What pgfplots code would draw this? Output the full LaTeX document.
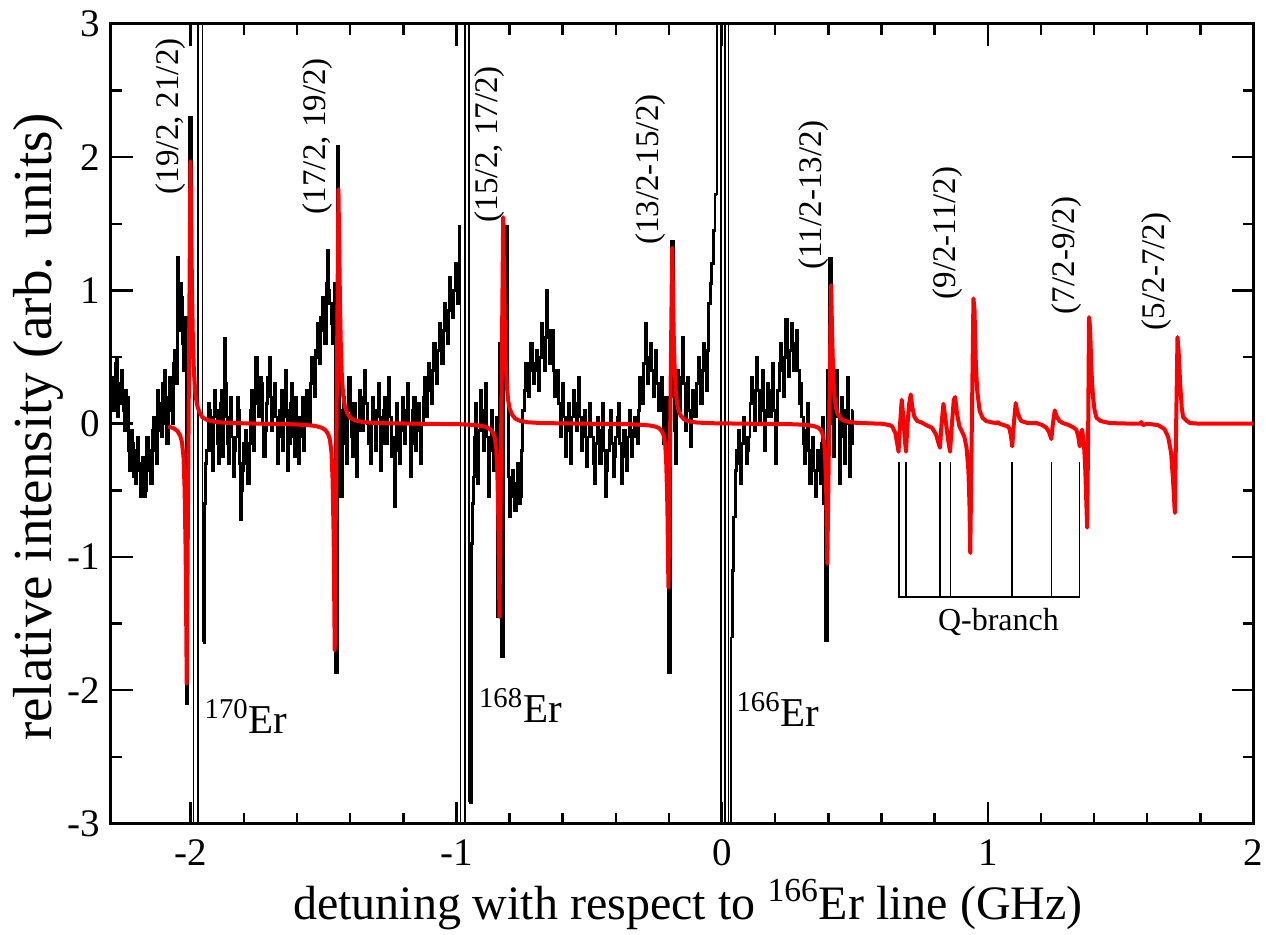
\documentclass[border=0pt]{standalone}
\usepackage{fontspec}
\setmainfont{Liberation Serif}
\usepackage{pgfplots}
\pgfplotsset{compat=1.18}
\newcommand{\annfont}{\fontsize{16.5}{16.5}\selectfont}
\newcommand{\isofont}{\fontsize{20.5}{20.5}\selectfont}
\begin{document}
\begin{tikzpicture}
\useasboundingbox (-55.5pt,-55.75pt) rectangle (577.5pt,411.75pt);
\begin{axis}[
  at={(0pt,0pt)}, anchor=south west,
  scale only axis, width=571.25pt, height=399.75pt,
  xmin=-2.3, xmax=2, ymin=-3, ymax=3,
  xtick={-2,-1,0,1,2}, xticklabels={-2,-1,0,1,2},
  ytick={-3,-2,-1,0,1,2,3}, yticklabels={-3,-2,-1,0,1,2,3},
  minor x tick num=4, minor y tick num=1,
  tick align=inside,
  major tick length=10.8pt, minor tick length=5.3pt,
  every tick/.style={black, line width=1.25pt},
  axis line style={line width=1.5pt},
  ticklabel style={font=\fontsize{19.5}{19.5}\selectfont, inner sep=0pt},
  xticklabel style={anchor=north, yshift=-8pt},
  yticklabel style={anchor=east, xshift=-5.5pt},
  xlabel={detuning with respect to \textsuperscript{166}Er line (GHz)},
  ylabel={relative intensity (arb. units)},
  every axis x label/.style={at={(axis description cs:0.505,-0.12)}, anchor=base, font=\fontsize{24}{24}\selectfont},
  every axis y label/.style={at={(axis description cs:-0.064,0.496)}, rotate=90, anchor=center, font=\fontsize{27.5}{27.5}\selectfont},
  clip=true,
]
% measured trace (black), noise segments
\addplot[black, line width=1.4pt, const plot, mark=none] coordinates {
(-2.300,0.35) (-2.295,0.20) (-2.290,0.10) (-2.285,0.45) (-2.280,0.50) (-2.275,0.05) (-2.270,0.15) (-2.265,0.30)
(-2.260,0.40) (-2.255,0.10) (-2.250,-0.05) (-2.245,0.25) (-2.240,0.20) (-2.235,-0.20) (-2.230,-0.35) (-2.225,-0.05)
(-2.220,-0.15) (-2.215,-0.40) (-2.210,-0.45) (-2.205,-0.20) (-2.200,-0.10) (-2.195,-0.35) (-2.190,-0.55) (-2.185,-0.30)
(-2.180,-0.25) (-2.175,-0.55) (-2.170,-0.50) (-2.165,-0.10) (-2.160,-0.20) (-2.155,-0.35) (-2.150,-0.45) (-2.145,-0.05)
(-2.140,0.05) (-2.135,-0.20) (-2.130,-0.30) (-2.125,0.25) (-2.120,0.15) (-2.115,-0.05) (-2.110,-0.10) (-2.105,0.30)
(-2.100,0.40) (-2.095,0.00) (-2.090,-0.15) (-2.085,0.20) (-2.080,0.35) (-2.075,0.10) (-2.070,0.00) (-2.065,0.45)
(-2.060,0.55) (-2.055,0.30) (-2.050,1.25) (-2.047,0.85) (-2.043,0.70) (-2.039,1.05) (-2.036,0.95) (-2.032,0.60)
(-2.028,0.40) (-2.024,0.75) (-2.020,0.80) (-2.016,-2.10) (-2.010,0.60) (-2.005,2.30) (-1.998,0.80) (-1.990,0.80)
};
\addplot[black, line width=0.7pt, mark=none] coordinates {
(-1.990,0.80) (-1.990,-9) (-1.973,-9) (-1.973,9) (-1.955,9) (-1.955,-1.64)
};
\addplot[black, line width=1.4pt, const plot, mark=none] coordinates {
(-1.955,-1.64) (-1.948,-0.60) (-1.944,-0.30) (-1.940,-0.20) (-1.935,0.15) (-1.930,0.10) (-1.925,-0.20) (-1.920,-0.35)
(-1.915,0.05) (-1.910,0.25) (-1.905,0.10) (-1.900,-0.15) (-1.895,-0.30) (-1.890,0.15) (-1.885,0.25) (-1.880,-0.25)
(-1.877,0.10) (-1.874,0.64) (-1.870,0.30) (-1.866,0.05) (-1.862,-0.15) (-1.858,-0.30) (-1.854,0.05) (-1.850,0.20)
(-1.845,-0.10) (-1.840,-0.40) (-1.835,-0.20) (-1.830,-0.10) (-1.825,0.20) (-1.820,0.10) (-1.816,-0.30) (-1.812,-0.72)
(-1.808,-0.50) (-1.805,-0.35) (-1.800,-0.15) (-1.795,-0.05) (-1.790,-0.30) (-1.785,-0.45) (-1.780,-0.15) (-1.775,0.10)
(-1.770,0.25) (-1.765,-0.20) (-1.760,0.15) (-1.755,0.50) (-1.750,0.20) (-1.745,0.05) (-1.740,0.35) (-1.735,0.30)
(-1.730,0.00) (-1.725,-0.25) (-1.720,-0.05) (-1.715,0.15) (-1.710,0.35) (-1.705,0.50) (-1.700,0.20) (-1.695,-0.05)
(-1.690,0.10) (-1.685,0.30) (-1.680,0.05) (-1.675,-0.30) (-1.670,-0.10) (-1.665,0.10) (-1.660,0.25) (-1.655,-0.20)
(-1.650,0.05) (-1.645,0.40) (-1.640,0.10) (-1.635,-0.35) (-1.630,-0.15) (-1.625,0.15) (-1.620,0.30) (-1.615,-0.10)
(-1.610,-0.25) (-1.605,0.20) (-1.600,0.05) (-1.595,-0.30) (-1.590,-0.10) (-1.585,0.05) (-1.580,0.20) (-1.575,-0.20)
(-1.570,0.00) (-1.565,0.25) (-1.560,0.10) (-1.555,0.00) (-1.550,0.30) (-1.545,0.50) (-1.540,0.35) (-1.535,0.20)
(-1.530,0.55) (-1.525,0.75) (-1.520,0.50) (-1.515,0.45) (-1.510,0.80) (-1.505,0.95) (-1.500,0.70) (-1.495,0.60)
(-1.490,1.05) (-1.485,1.30) (-1.481,1.00) (-1.477,0.90) (-1.472,0.75) (-1.468,0.60) (-1.464,0.90) (-1.461,1.05)
(-1.456,-1.87) (-1.449,2.08) (-1.442,0.40) (-1.438,0.10) (-1.435,-0.55) (-1.430,-0.15) (-1.425,0.20) (-1.420,0.05)
(-1.415,-0.30) (-1.410,0.10) (-1.405,0.35) (-1.400,0.15) (-1.395,-0.10) (-1.390,-0.25) (-1.385,0.15) (-1.380,0.00)
(-1.375,-0.40) (-1.370,-0.05) (-1.365,0.25) (-1.360,0.10) (-1.355,-0.05) (-1.350,0.20) (-1.345,0.40) (-1.340,0.15)
(-1.335,0.00) (-1.330,-0.15) (-1.325,-0.30) (-1.320,0.00) (-1.315,0.20) (-1.310,0.05) (-1.305,-0.20) (-1.300,0.10)
(-1.295,0.30) (-1.290,0.05) (-1.285,-0.35) (-1.280,-0.15) (-1.275,0.10) (-1.270,0.20) (-1.265,-0.15) (-1.260,0.10)
(-1.255,0.35) (-1.250,0.05) (-1.245,-0.25) (-1.240,-0.10) (-1.235,-0.62) (-1.230,-0.20) (-1.225,0.15) (-1.220,0.00)
(-1.215,-0.30) (-1.210,-0.05) (-1.205,0.20) (-1.200,0.05) (-1.195,-0.15) (-1.190,0.10) (-1.185,0.30) (-1.180,0.00)
(-1.175,-0.40) (-1.170,-0.15) (-1.165,0.10) (-1.160,0.20) (-1.155,-0.20) (-1.150,0.00) (-1.145,0.15) (-1.140,-0.05)
(-1.135,-0.30) (-1.130,0.00) (-1.125,0.20) (-1.120,0.35) (-1.115,0.05) (-1.110,0.25) (-1.105,0.45) (-1.100,0.30)
(-1.095,0.15) (-1.090,0.40) (-1.085,0.60) (-1.080,0.45) (-1.075,0.30) (-1.070,0.55) (-1.065,0.75) (-1.060,0.60)
(-1.055,0.45) (-1.050,0.70) (-1.045,0.90) (-1.040,0.75) (-1.035,0.60) (-1.030,0.85) (-1.025,1.10) (-1.020,0.95)
(-1.015,0.80) (-1.010,1.00) (-1.005,1.20) (-1.000,1.05) (-0.996,0.90) (-0.990,1.48) (-0.984,1.48)
};
\addplot[black, line width=0.7pt, mark=none] coordinates {
(-0.984,1.48) (-0.984,-9) (-0.967,-9) (-0.967,9) (-0.952,9) (-0.952,-2.84)
};
\addplot[black, line width=1.4pt, const plot, mark=none] coordinates {
(-0.952,-2.84) (-0.944,-0.90) (-0.940,-0.60) (-0.937,-0.40) (-0.933,-0.10) (-0.930,0.15) (-0.925,-0.10) (-0.920,-0.45)
(-0.915,-0.05) (-0.910,0.25) (-0.905,0.05) (-0.900,-0.20) (-0.895,0.10) (-0.890,0.30) (-0.885,-0.10) (-0.880,-0.55)
(-0.875,-0.20) (-0.870,0.10) (-0.865,-0.10) (-0.860,-0.35) (-0.855,-0.10) (-0.851,0.05) (-0.844,-1.45) (-0.838,0.60)
(-0.832,-1.75) (-0.824,0.80) (-0.815,1.48) (-0.808,0.20) (-0.804,-0.40) (-0.800,-0.70) (-0.795,-0.50) (-0.790,-0.35)
(-0.785,-0.55) (-0.780,-0.65) (-0.775,-0.45) (-0.770,-0.30) (-0.765,-0.60) (-0.760,-0.55) (-0.755,-0.20) (-0.750,0.10)
(-0.745,0.25) (-0.740,0.45) (-0.735,0.35) (-0.730,0.20) (-0.725,0.45) (-0.720,0.60) (-0.715,0.40) (-0.710,0.30)
(-0.705,0.45) (-0.700,0.55) (-0.695,0.40) (-0.690,0.25) (-0.685,0.50) (-0.680,0.75) (-0.675,0.55) (-0.670,0.40)
(-0.665,0.65) (-0.660,1.00) (-0.655,0.70) (-0.650,0.45) (-0.645,0.55) (-0.640,0.70) (-0.635,0.40) (-0.630,0.20)
(-0.625,0.30) (-0.620,0.40) (-0.615,0.15) (-0.610,-0.10) (-0.605,0.10) (-0.600,0.30) (-0.595,0.05) (-0.590,-0.25)
(-0.585,-0.05) (-0.580,0.15) (-0.575,0.00) (-0.570,-0.30) (-0.565,0.05) (-0.560,0.25) (-0.555,0.10) (-0.550,-0.05)
(-0.545,0.15) (-0.540,0.35) (-0.535,0.05) (-0.530,-0.20) (-0.525,-0.05) (-0.520,0.10) (-0.515,-0.10) (-0.510,-0.32)
(-0.505,-0.10) (-0.500,0.15) (-0.495,0.00) (-0.490,-0.10) (-0.485,-0.30) (-0.480,-0.45) (-0.475,-0.15) (-0.470,0.05)
(-0.465,-0.10) (-0.460,-0.30) (-0.455,-0.05) (-0.450,0.15) (-0.445,-0.20) (-0.440,-0.55) (-0.435,-0.35) (-0.430,-0.20)
(-0.425,-0.05) (-0.420,0.10) (-0.415,-0.15) (-0.410,-0.40) (-0.405,-0.25) (-0.400,-0.10) (-0.395,0.05) (-0.390,0.15)
(-0.385,-0.15) (-0.380,-0.45) (-0.375,-0.25) (-0.370,-0.05) (-0.365,-0.20) (-0.360,-0.35) (-0.355,-0.10) (-0.350,0.10)
(-0.345,-0.05) (-0.340,-0.25) (-0.335,-0.10) (-0.330,0.05) (-0.325,-0.05) (-0.320,-0.15) (-0.315,0.10) (-0.310,0.35)
(-0.305,0.25) (-0.300,0.15) (-0.295,0.45) (-0.290,0.75) (-0.285,0.50) (-0.280,0.30) (-0.275,0.45) (-0.270,0.60)
(-0.265,0.40) (-0.260,0.20) (-0.255,0.35) (-0.250,0.55) (-0.245,0.30) (-0.240,0.10) (-0.235,0.25) (-0.230,0.35)
(-0.225,0.10) (-0.220,-0.15) (-0.216,0.05) (-0.212,0.20) (-0.206,-0.40) (-0.201,-1.87) (-0.195,0.50) (-0.190,1.37)
(-0.183,0.20) (-0.179,-0.05) (-0.175,-0.30) (-0.171,0.10) (-0.168,0.40) (-0.164,0.25) (-0.160,0.10) (-0.155,0.35)
(-0.150,0.65) (-0.145,0.30) (-0.140,-0.05) (-0.135,0.15) (-0.130,0.35) (-0.125,0.10) (-0.120,-0.17) (-0.115,0.05)
(-0.110,0.25) (-0.105,0.15) (-0.100,0.05) (-0.095,0.30) (-0.090,0.50) (-0.085,0.35) (-0.080,0.15) (-0.075,0.40)
(-0.070,0.60) (-0.065,0.45) (-0.060,0.25) (-0.055,0.55) (-0.050,0.90) (-0.045,1.05) (-0.040,1.20) (-0.033,1.45)
(-0.0264,1.72) (-0.019,1.72)
};
\addplot[black, line width=0.7pt, mark=none] coordinates {
(-0.019,1.72) (-0.019,9) (-0.004,9) (-0.004,-9) (0.011,-9) (0.011,9) (0.0245,9) (0.0245,-9) (0.034,-9) (0.034,-1.60)
};
\addplot[black, line width=1.4pt, const plot, mark=none] coordinates {
(0.034,-1.60) (0.038,-1.10) (0.043,-0.70) (0.050,-0.35) (0.055,-0.20) (0.060,-0.05) (0.065,-0.30) (0.070,-0.45)
(0.075,-0.15) (0.080,0.05) (0.085,-0.10) (0.090,-0.30) (0.095,-0.20) (0.100,-0.10) (0.105,0.15) (0.110,0.35)
(0.115,0.15) (0.120,-0.05) (0.125,0.25) (0.130,0.50) (0.135,0.25) (0.140,0.00) (0.145,0.20) (0.150,0.40)
(0.155,0.10) (0.160,-0.20) (0.165,0.05) (0.170,0.30) (0.175,0.20) (0.180,0.05) (0.185,0.25) (0.190,0.45)
(0.195,0.10) (0.200,-0.30) (0.205,0.00) (0.210,0.25) (0.215,0.45) (0.220,0.60) (0.225,0.40) (0.230,0.20)
(0.235,0.50) (0.240,0.78) (0.245,0.55) (0.250,0.35) (0.255,0.55) (0.260,0.75) (0.265,0.60) (0.270,0.40)
(0.275,0.55) (0.280,0.70) (0.285,0.40) (0.290,0.15) (0.295,0.30) (0.300,0.05) (0.305,-0.15) (0.310,-0.30)
(0.315,-0.05) (0.320,0.15) (0.325,-0.20) (0.330,-0.45) (0.335,-0.25) (0.340,-0.10) (0.345,-0.35) (0.350,-0.55)
(0.355,-0.35) (0.360,-0.20) (0.365,-0.30) (0.370,-0.45) (0.374,-0.15) (0.378,0.05) (0.383,-0.60) (0.388,-1.63)
(0.396,0.40) (0.405,1.24) (0.413,0.30) (0.417,0.00) (0.420,-0.25) (0.425,0.10) (0.430,0.40) (0.435,0.05)
(0.440,-0.45) (0.445,-0.10) (0.450,0.20) (0.455,-0.05) (0.460,-0.30) (0.465,0.10) (0.470,0.35) (0.475,0.00)
(0.480,-0.40) (0.485,-0.15) (0.490,0.10) (0.494,0.10)
};
% fitted spectrum (red)
\addplot[red, line width=2pt, mark=none, line join=round] coordinates {
(-2.085,-0.020) (-2.063,-0.035) (-2.050,-0.055) (-2.040,-0.088) (-2.033,-0.137) (-2.027,-0.254) (-2.023,-0.49) (-2.019,-0.975)
(-2.015,-1.95) (-2.001,1.97) (-1.998,1.48) (-1.995,0.985) (-1.992,0.65) (-1.988,0.394) (-1.983,0.236) (-1.977,0.148)
(-1.968,0.089) (-1.956,0.049) (-1.938,0.028) (-1.908,0.014) (-1.858,0.006) (-1.730,0.0)
(-1.601,-0.005) (-1.551,-0.012) (-1.526,-0.019) (-1.506,-0.031) (-1.493,-0.048) (-1.483,-0.077) (-1.476,-0.119) (-1.470,-0.221)
(-1.466,-0.425) (-1.462,-0.85) (-1.458,-1.70) (-1.444,1.76) (-1.441,1.32) (-1.438,0.88) (-1.435,0.58) (-1.431,0.352)
(-1.426,0.211) (-1.420,0.132) (-1.411,0.079) (-1.399,0.044) (-1.381,0.025) (-1.351,0.012) (-1.301,0.005) (-1.140,0.0)
(-0.981,-0.004) (-0.931,-0.010) (-0.906,-0.016) (-0.886,-0.026) (-0.873,-0.041) (-0.863,-0.065) (-0.856,-0.10) (-0.850,-0.19)
(-0.846,-0.36) (-0.842,-0.725) (-0.838,-1.45) (-0.824,1.55) (-0.821,1.16) (-0.818,0.775) (-0.815,0.51) (-0.811,0.31)
(-0.806,0.186) (-0.800,0.116) (-0.791,0.07) (-0.779,0.039) (-0.761,0.022) (-0.731,0.011) (-0.681,0.005) (-0.500,0.0)
(-0.345,-0.004) (-0.295,-0.009) (-0.270,-0.014) (-0.250,-0.022) (-0.237,-0.034) (-0.227,-0.055) (-0.220,-0.086) (-0.214,-0.16)
(-0.210,-0.31) (-0.206,-0.615) (-0.202,-1.23) (-0.188,1.32) (-0.185,0.99) (-0.182,0.66) (-0.179,0.436) (-0.175,0.264)
(-0.170,0.158) (-0.164,0.099) (-0.155,0.059) (-0.143,0.033) (-0.125,0.018) (-0.095,0.009) (-0.045,0.004) (0.100,0.0)
(0.253,-0.003) (0.303,-0.007) (0.328,-0.012) (0.348,-0.019) (0.361,-0.029) (0.371,-0.047) (0.378,-0.074) (0.384,-0.137)
(0.388,-0.26) (0.392,-0.525) (0.396,-1.05) (0.410,1.04) (0.413,0.78) (0.416,0.52) (0.419,0.343) (0.423,0.208)
(0.428,0.125) (0.434,0.078) (0.443,0.047) (0.455,0.026) (0.473,0.015) (0.503,0.007) (0.553,0.003) (0.600,0.0)
(0.630,-0.01) (0.640,-0.02) (0.652,-0.07) (0.659,-0.15) (0.664,-0.21) (0.670,0.0) (0.676,0.18) (0.682,0.05)
(0.688,-0.12) (0.692,-0.21) (0.698,0.0) (0.704,0.15) (0.710,0.22) (0.716,0.12) (0.724,0.05) (0.735,0.02)
(0.750,0.01) (0.768,-0.01) (0.790,-0.03) (0.805,-0.08) (0.815,-0.15) (0.820,-0.18) (0.826,0.0) (0.833,0.15)
(0.840,0.05) (0.846,-0.05) (0.852,-0.14) (0.858,-0.21) (0.865,0.0) (0.872,0.18) (0.877,0.20) (0.884,0.08)
(0.893,-0.02) (0.903,-0.06) (0.912,-0.10) (0.920,-0.18) (0.927,-0.35) (0.931,-0.60) (0.934,-0.97) (0.940,0.0)
(0.946,0.94) (0.950,0.85) (0.955,0.45) (0.960,0.25) (0.969,0.10) (0.980,0.045) (0.994,0.02) (1.015,0.01)
(1.032,0.005) (1.038,0.012) (1.045,0.0) (1.060,-0.01) (1.075,-0.02) (1.082,-0.04) (1.087,-0.09) (1.092,-0.17)
(1.098,0.0) (1.105,0.155) (1.110,0.10) (1.118,0.05) (1.126,0.02) (1.150,0.005) (1.183,0.005) (1.205,-0.01)
(1.220,-0.03) (1.230,-0.06) (1.239,-0.115) (1.245,0.0) (1.252,0.10) (1.258,0.06) (1.270,0.02) (1.283,0.005)
(1.305,-0.01) (1.320,-0.025) (1.333,-0.045) (1.340,-0.09) (1.346,-0.17) (1.351,-0.07) (1.355,-0.045) (1.362,-0.15)
(1.367,-0.35) (1.371,-0.60) (1.374,-0.78) (1.378,0.0) (1.381,0.80) (1.385,0.72) (1.390,0.40) (1.396,0.20)
(1.402,0.10) (1.409,0.045) (1.425,0.02) (1.459,0.005) (1.550,0.0) (1.572,0.0) (1.578,0.012) (1.584,-0.01)
(1.600,0.0) (1.640,-0.01) (1.665,-0.04) (1.679,-0.10) (1.690,-0.22) (1.697,-0.42) (1.704,-0.67) (1.709,0.0)
(1.714,0.65) (1.718,0.55) (1.724,0.30) (1.730,0.12) (1.735,0.05) (1.750,0.02) (1.761,0.005) (1.800,0.0)
(2.000,0.0)
};
% Q-branch bracket
\addplot[black, line width=0.75pt, mark=none] coordinates {(0.665,-0.29) (0.665,-1.30) (1.346,-1.30) (1.346,-0.29)};
\addplot[black, line width=0.75pt, mark=none] coordinates {(0.692,-0.29) (0.692,-1.30)};
\addplot[black, line width=0.75pt, mark=none] coordinates {(0.821,-0.29) (0.821,-1.30)};
\addplot[black, line width=0.75pt, mark=none] coordinates {(0.859,-0.29) (0.859,-1.30)};
\addplot[black, line width=0.75pt, mark=none] coordinates {(1.092,-0.29) (1.092,-1.30)};
\addplot[black, line width=0.75pt, mark=none] coordinates {(1.239,-0.29) (1.239,-1.30)};
% labels
\node[rotate=90, anchor=west, inner sep=0pt, font=\annfont] at (axis cs:-2.077,1.72) {(19/2, 21/2)};
\node[rotate=90, anchor=west, inner sep=0pt, font=\annfont] at (axis cs:-1.523,1.57) {(17/2, 19/2)};
\node[rotate=90, anchor=west, inner sep=0pt, font=\annfont] at (axis cs:-0.875,1.51) {(15/2, 17/2)};
\node[rotate=90, anchor=west, inner sep=0pt, font=\annfont] at (axis cs:-0.268,1.34) {(13/2-15/2)};
\node[rotate=90, anchor=west, inner sep=0pt, font=\annfont] at (axis cs:0.343,1.155) {(11/2-13/2)};
\node[rotate=90, anchor=west, inner sep=0pt, font=\annfont] at (axis cs:0.848,0.93) {(9/2-11/2)};
\node[rotate=90, anchor=west, inner sep=0pt, font=\annfont] at (axis cs:1.298,0.82) {(7/2-9/2)};
\node[rotate=90, anchor=west, inner sep=0pt, font=\annfont] at (axis cs:1.637,0.70) {(5/2-7/2)};
\node[anchor=base, inner sep=0pt, font=\fontsize{16}{16}\selectfont] at (axis cs:1.040,-1.555) {Q-branch};
\node[anchor=base west, inner sep=0pt, font=\isofont] at (axis cs:-1.949,-2.325) {\textsuperscript{170}Er};
\node[anchor=base west, inner sep=0pt, font=\isofont] at (axis cs:-0.916,-2.24) {\textsuperscript{168}Er};
\node[anchor=base west, inner sep=0pt, font=\isofont] at (axis cs:0.053,-2.27) {\textsuperscript{166}Er};
\end{axis}
\end{tikzpicture}
\end{document}
